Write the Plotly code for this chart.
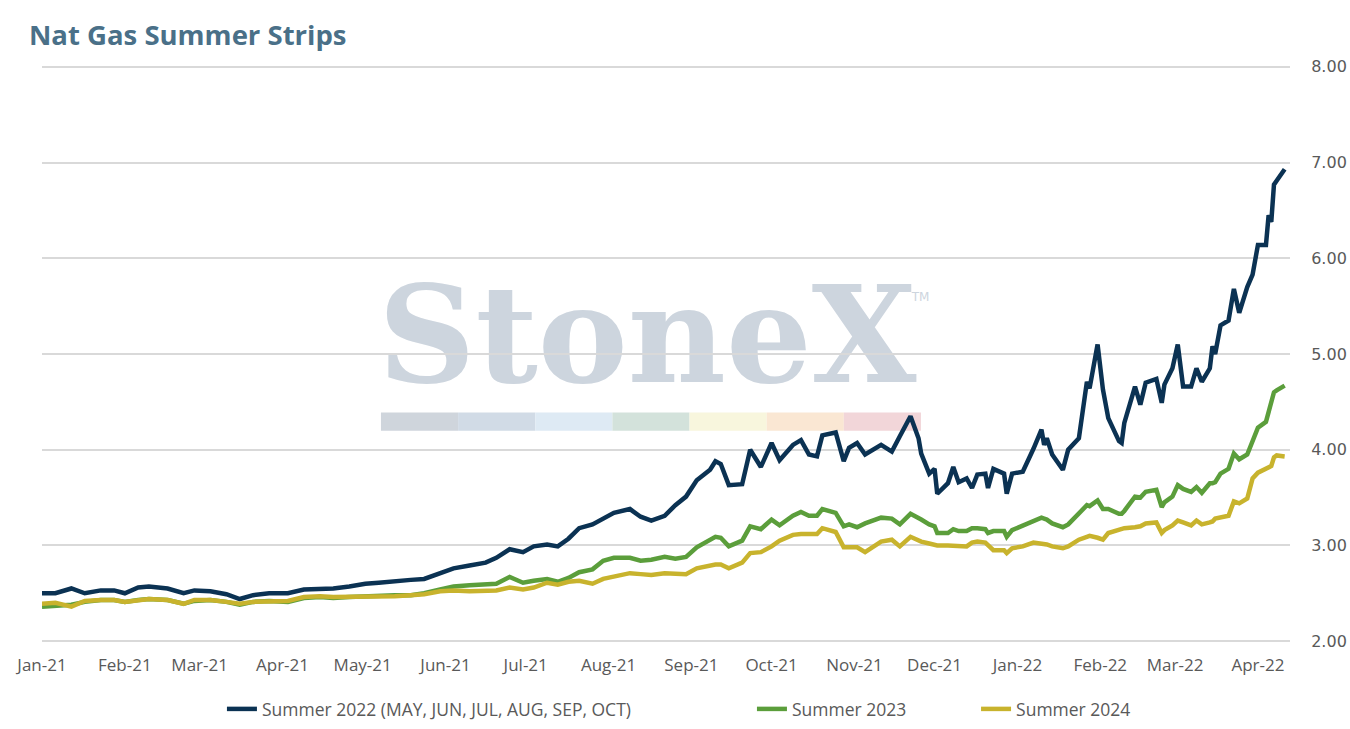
import plotly.graph_objects as go

# dates of the readings (roughly every few trading days)
dates = [
    "2021-01-01", "2021-01-06", "2021-01-12", "2021-01-17", "2021-01-23", "2021-01-28",
    "2021-02-01", "2021-02-06", "2021-02-10", "2021-02-17", "2021-02-23", "2021-02-27",
    "2021-03-05", "2021-03-11", "2021-03-16", "2021-03-21", "2021-03-27",
    "2021-04-03", "2021-04-09", "2021-04-15", "2021-04-20", "2021-04-26",
    "2021-05-02", "2021-05-07", "2021-05-13", "2021-05-19", "2021-05-24", "2021-05-30",
    "2021-06-04", "2021-06-10", "2021-06-16", "2021-06-20", "2021-06-25", "2021-06-30",
    "2021-07-04", "2021-07-09", "2021-07-13", "2021-07-17", "2021-07-21", "2021-07-26", "2021-07-30",
    "2021-08-03", "2021-08-09", "2021-08-13", "2021-08-17", "2021-08-22", "2021-08-26", "2021-08-30",
    "2021-09-03", "2021-09-08", "2021-09-10", "2021-09-12", "2021-09-15", "2021-09-20", "2021-09-23", "2021-09-27",
    "2021-10-01", "2021-10-04", "2021-10-09", "2021-10-12", "2021-10-15", "2021-10-18", "2021-10-20", "2021-10-25",
    "2021-10-28", "2021-10-30",
    "2021-11-02", "2021-11-05", "2021-11-11", "2021-11-15", "2021-11-18", "2021-11-22", "2021-11-25", "2021-11-26",
    "2021-11-29",
    "2021-12-01", "2021-12-02", "2021-12-06", "2021-12-08", "2021-12-10", "2021-12-13", "2021-12-15", "2021-12-17",
    "2021-12-20", "2021-12-21", "2021-12-23", "2021-12-27", "2021-12-28", "2021-12-30",
    "2022-01-03", "2022-01-07", "2022-01-10", "2022-01-11", "2022-01-12", "2022-01-14", "2022-01-18", "2022-01-20",
    "2022-01-24", "2022-01-27", "2022-01-28", "2022-01-31",
    "2022-02-02", "2022-02-04", "2022-02-08", "2022-02-09", "2022-02-10", "2022-02-14", "2022-02-16", "2022-02-18",
    "2022-02-22", "2022-02-24", "2022-02-25", "2022-02-28",
    "2022-03-02", "2022-03-04", "2022-03-07", "2022-03-09", "2022-03-11", "2022-03-14", "2022-03-15", "2022-03-16",
    "2022-03-18", "2022-03-21", "2022-03-23", "2022-03-25", "2022-03-28", "2022-03-30",
    "2022-04-01", "2022-04-04", "2022-04-05", "2022-04-06", "2022-04-07", "2022-04-08", "2022-04-11",
]

summer_2022 = [
    2.50, 2.50, 2.55, 2.50, 2.53, 2.53,
    2.50, 2.56, 2.57, 2.55, 2.50, 2.53,
    2.52, 2.49, 2.44, 2.48, 2.50,
    2.50, 2.54, 2.54, 2.55, 2.57,
    2.60, 2.61, 2.63, 2.64, 2.65, 2.71,
    2.76, 2.79, 2.82, 2.87, 2.96, 2.93,
    2.99, 3.01, 2.99, 3.07, 3.18, 3.22, 3.28,
    3.34, 3.38, 3.30, 3.26, 3.31, 3.42, 3.51,
    3.68, 3.79, 3.88, 3.85, 3.63, 3.64, 4.00, 3.82,
    4.07, 3.89, 4.05, 4.10, 3.95, 3.93, 4.15, 4.18, 3.88, 4.02,
    4.07, 3.95, 4.05, 3.98, 4.14, 4.35, 4.12, 3.96, 3.75,
    3.80, 3.54, 3.65, 3.82, 3.66, 3.70, 3.60, 3.74, 3.75, 3.60, 3.80, 3.75, 3.54, 3.75,
    3.77, 4.01, 4.21, 4.05, 4.12, 3.95, 3.79, 4.00, 4.12, 4.71, 4.64, 5.10,
    4.63, 4.33, 4.09, 4.07, 4.28, 4.66, 4.47, 4.70, 4.74, 4.49, 4.68, 4.85,
    5.10, 4.66, 4.66, 4.85, 4.71, 4.85, 5.08, 5.00, 5.30, 5.35, 5.68, 5.43, 5.70, 5.83,
    6.14, 6.14, 6.45, 6.38, 6.77, 6.81, 6.93,
]

summer_2023 = [
    2.36, 2.37, 2.38, 2.41, 2.43, 2.43,
    2.41, 2.43, 2.44, 2.43, 2.39, 2.42,
    2.43, 2.41, 2.38, 2.41, 2.42,
    2.41, 2.45, 2.46, 2.45, 2.46,
    2.47, 2.47, 2.48, 2.48, 2.50, 2.54,
    2.57, 2.585, 2.59, 2.60, 2.67, 2.61,
    2.63, 2.65, 2.62, 2.66, 2.72, 2.75, 2.84,
    2.87, 2.87, 2.84, 2.85, 2.88, 2.86, 2.88,
    2.98, 3.05, 3.09, 3.08, 2.99, 3.05, 3.20, 3.17,
    3.27, 3.21, 3.31, 3.35, 3.31, 3.31, 3.38, 3.34, 3.20, 3.22,
    3.19, 3.23, 3.29, 3.28, 3.22, 3.33, 3.29, 3.27, 3.22,
    3.20, 3.13, 3.13, 3.17, 3.15, 3.15, 3.18, 3.18, 3.17, 3.13, 3.15, 3.15, 3.09, 3.16,
    3.21, 3.26, 3.29, 3.28, 3.27, 3.23, 3.19, 3.22, 3.34, 3.42, 3.41, 3.47,
    3.38, 3.38, 3.33, 3.33, 3.36, 3.51, 3.50, 3.56, 3.58, 3.40, 3.45, 3.51,
    3.63, 3.59, 3.56, 3.61, 3.55, 3.65, 3.65, 3.66, 3.75, 3.80, 3.96, 3.90, 3.95, 4.10,
    4.23, 4.29, 4.40, 4.50, 4.60, 4.62, 4.67,
]

summer_2024 = [
    2.39, 2.40, 2.36, 2.42, 2.43, 2.43,
    2.41, 2.43, 2.44, 2.43, 2.39, 2.43,
    2.43, 2.41, 2.39, 2.41, 2.42,
    2.42, 2.46, 2.47, 2.46, 2.46,
    2.47, 2.47, 2.47, 2.48, 2.49, 2.52,
    2.53, 2.52, 2.52, 2.53, 2.56, 2.54,
    2.56, 2.61, 2.59, 2.62, 2.63, 2.60, 2.65,
    2.67, 2.71, 2.70, 2.69, 2.71, 2.70, 2.70,
    2.76, 2.79, 2.80, 2.80, 2.76, 2.82, 2.92, 2.93,
    2.99, 3.05, 3.11, 3.12, 3.12, 3.12, 3.18, 3.14, 2.98, 2.98,
    2.98, 2.93, 3.04, 3.06, 2.99, 3.09, 3.05, 3.04, 3.02,
    3.01, 3.00, 3.00, 3.00, 2.99, 2.99, 3.03, 3.04, 3.03, 3.00, 2.95, 2.95, 2.92, 2.97,
    2.99, 3.03, 3.02, 3.02, 3.01, 2.99, 2.97, 2.99, 3.06, 3.09, 3.10, 3.08,
    3.06, 3.13, 3.16, 3.17, 3.18, 3.19, 3.20, 3.23, 3.24, 3.13, 3.16, 3.21,
    3.26, 3.24, 3.21, 3.26, 3.22, 3.24, 3.25, 3.28, 3.29, 3.31, 3.46, 3.44, 3.49, 3.70,
    3.76, 3.80, 3.81, 3.83, 3.92, 3.94, 3.93,
]

series_names = ["Summer 2022 (MAY, JUN, JUL, AUG, SEP, OCT)", "Summer 2023", "Summer 2024"]
series_colors = ["#0b3253", "#5b9e3b", "#c8b32d"]
legend_ids = ["legend", "legend2", "legend3"]
legend_x = [0.1644, 0.557, 0.723]

# watermark colour band
band_colors = ["#cfd5dc", "#d1dbe6", "#deeaf4", "#d3e2db", "#f8f6dd", "#fae7d3", "#f2d6d9"]

fig = go.Figure()
for name, vals, col, lg in zip(series_names, [summer_2022, summer_2023, summer_2024], series_colors, legend_ids):
    fig.add_trace(go.Scatter(x=dates, y=vals, name=name, mode="lines", legend=lg,
                             line=dict(color=col, width=4.5)))

# StoneX watermark behind the grid
shapes = []
x_left = 0.2716
seg = (0.7043 - 0.2716) / len(band_colors)
for i, c in enumerate(band_colors):
    shapes.append(dict(type="rect", xref="paper", yref="paper", layer="below",
                       x0=x_left + i * seg, x1=x_left + (i + 1) * seg, y0=0.3676, y1=0.399,
                       fillcolor=c, line=dict(width=0)))
shapes.append(dict(type="rect", xref="paper", yref="paper", layer="below",
                   x0=0.25, x1=0.72, y0=0.462, y1=0.632, fillcolor="rgba(0,0,0,0)",
                   line=dict(width=0),
                   label=dict(text="<b>StoneX</b>", textposition="middle center",
                              font=dict(family="DejaVu Serif", size=135, color="#cdd5de"))))
shapes.append(dict(type="rect", xref="paper", yref="paper", layer="below",
                   x0=0.684, x1=0.724, y0=0.58, y1=0.62, fillcolor="rgba(0,0,0,0)",
                   line=dict(width=0),
                   label=dict(text="TM", textposition="middle center",
                              font=dict(family="DejaVu Sans", size=12, color="#cdd5de"))))

leg_font = dict(family="Open Sans", size=17.5, color="#595959")
legends = {}
for lg, lx in zip(legend_ids, legend_x):
    legends[lg] = dict(orientation="h", xref="container", yref="container",
                       x=lx, xanchor="left", y=0.0274, yanchor="middle",
                       font=leg_font, bgcolor="rgba(0,0,0,0)")

fig.update_layout(
    width=1350, height=729,
    margin=dict(l=42, r=60, t=64, b=85, autoexpand=False),
    paper_bgcolor="white", plot_bgcolor="white",
    title=dict(text="<b>Nat Gas Summer Strips</b>", xref="container", x=0.0215, xanchor="left",
               y=0.952, yanchor="middle",
               font=dict(family="Open Sans", size=27.5, color="#4a7088")),
    showlegend=True,
    shapes=shapes,
    **legends,
)
fig.update_xaxes(type="date", range=["2021-01-01", "2022-04-13"],
                 tick0="2021-01-01", dtick="M1", tickformat="%b-%y",
                 showgrid=False, showline=False, zeroline=False, ticks="",
                 ticklabelstandoff=9, automargin=False,
                 tickfont=dict(family="Open Sans", size=17, color="#595959"))
# invisible outside ticks push the labels away from the plot edge
fig.update_yaxes(range=[1.97, 8.03], dtick=1, tick0=2, tickformat=".2f", side="right",
                 showgrid=True, gridcolor="#d9d9d9", gridwidth=2,
                 showline=False, zeroline=False, automargin=False,
                 ticks="outside", ticklen=17, tickcolor="rgba(0,0,0,0)",
                 tickfont=dict(family="DejaVu Sans", size=16, color="#595959"))

# page body margin would push the 1350px figure past the window edge
fig.write_html("out.html", config={"displayModeBar": False},
               post_script="document.body.style.margin='0';document.body.style.overflow='hidden';")
